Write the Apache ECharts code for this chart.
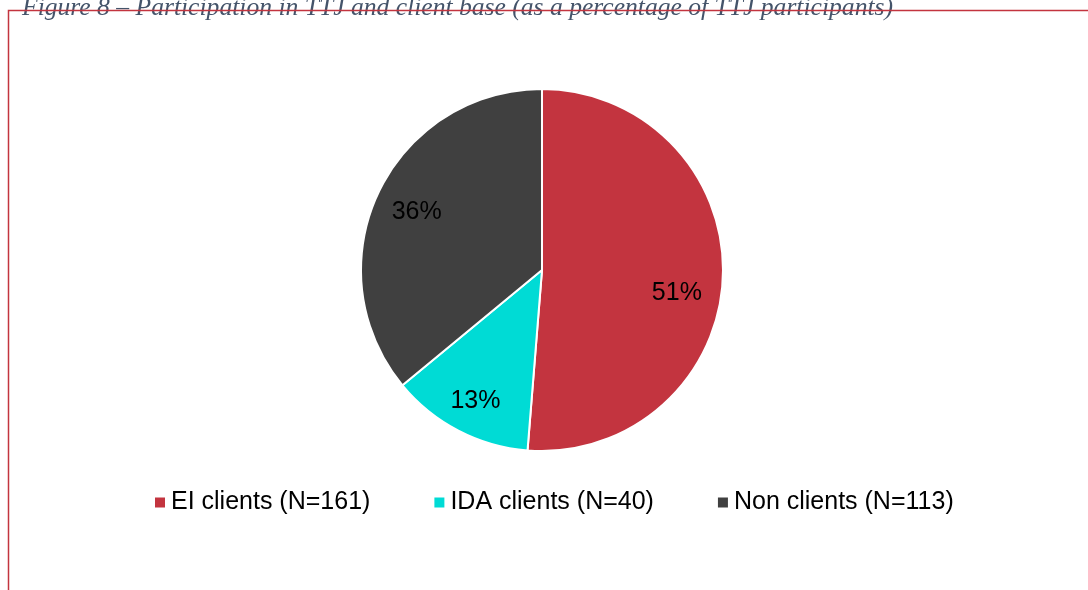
<!DOCTYPE html>
<html>
<head>
<meta charset="utf-8">
<script src="https://cdn.jsdelivr.net/npm/echarts@6/dist/echarts.min.js"></script>
<style>
  html, body { margin: 0; padding: 0; background: #fff; }
  #chart { width: 1088px; height: 590px; }
</style>
</head>
<body>
<div id="chart"></div>
<script>
const titleText = 'Figure 8 – Participation in TTJ and client base (as a percentage of TTJ participants)'
const categories = ['EI clients (N=161)', 'IDA clients (N=40)', 'Non clients (N=113)']
const counts = [161, 40, 113]
const colors = ['#C3343F', '#00DBD5', '#404040']
// small nudges so the labels sit where the original placed them
const labelNudge = [[-9, 17], [0, 3], [5, 3]]

const chart = echarts.init(document.getElementById('chart'))

const pieData = categories.map((name, i) => ({
  name,
  value: counts[i],
  itemStyle: { color: colors[i] }
}))

// labels sit further out than the default inside position, so use a transparent ring for them
const labelData = categories.map((name, i) => ({
  name,
  value: counts[i],
  itemStyle: { color: 'rgba(0,0,0,0)' }
}))

chart.setOption({
  animation: false,
  graphic: [
    {
      type: 'text',
      left: 22,
      top: -5,
      z: 1,
      style: {
        text: titleText,
        font: 'italic 25.6px "Liberation Serif", serif',
        fill: '#44546A'
      }
    },
    {
      type: 'polyline',
      z: 2,
      shape: { points: [[8.5, 590], [8.5, 10.5], [1088, 10.5]] },
      style: { stroke: '#C3343F', lineWidth: 1.5, fill: null }
    }
  ],
  legend: {
    data: categories,
    left: 148,
    top: 485,
    icon: 'rect',
    itemWidth: 12,
    itemHeight: 12,
    itemGap: 62,
    textStyle: { fontFamily: '"Liberation Sans", Arial', fontSize: 25, color: '#000' }
  },
  series: [
    {
      type: 'pie',
      center: [542, 270],
      radius: [0, 181],
      startAngle: 90,
      clockwise: true,
      label: { show: false },
      labelLine: { show: false },
      itemStyle: { borderColor: '#fff', borderWidth: 2 },
      emphasis: { disabled: true },
      data: pieData
    },
    {
      type: 'pie',
      center: [542, 270],
      radius: [101, 181],
      startAngle: 90,
      clockwise: true,
      silent: true,
      legendHoverLink: false,
      label: {
        show: true,
        position: 'inside',
        formatter: (p) => Math.round(p.percent) + '%',
        fontFamily: '"Liberation Sans", Arial',
        fontSize: 25,
        color: '#000'
      },
      labelLayout: (p) => ({ dx: labelNudge[p.dataIndex][0], dy: labelNudge[p.dataIndex][1] }),
      labelLine: { show: false },
      emphasis: { disabled: true },
      data: labelData
    }
  ]
})
</script>
</body>
</html>
